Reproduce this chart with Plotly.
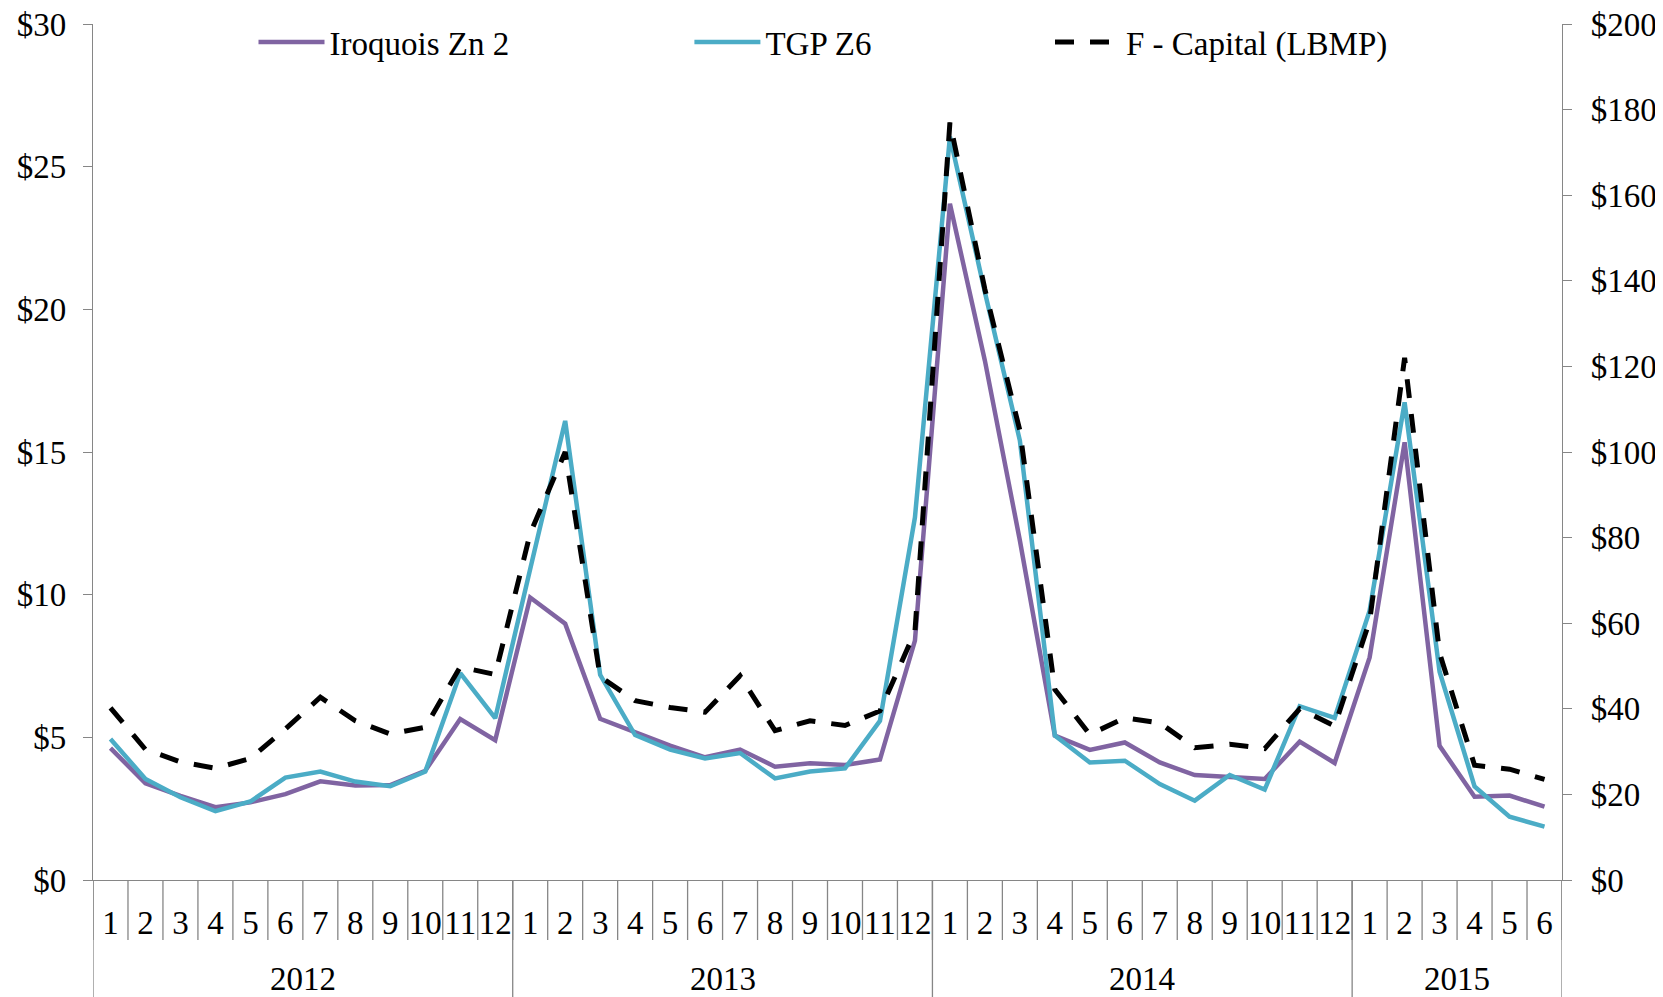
import plotly.graph_objects as go

year_labels = ["2012"] * 12 + ["2013"] * 12 + ["2014"] * 12 + ["2015"] * 6
month_labels = ["1", "2", "3", "4", "5", "6", "7", "8", "9", "10", "11", "12",
                "1", "2", "3", "4", "5", "6", "7", "8", "9", "10", "11", "12",
                "1", "2", "3", "4", "5", "6", "7", "8", "9", "10", "11", "12",
                "1", "2", "3", "4", "5", "6"]

iroquois_zn2 = [4.62, 3.39, 2.95, 2.55, 2.72, 3.01, 3.46, 3.31, 3.33, 3.83, 5.64, 4.90,
                9.90, 8.98, 5.65, 5.17, 4.71, 4.30, 4.57, 3.97, 4.09, 4.03, 4.22, 8.39,
                23.70, 18.20, 11.90, 5.06, 4.56, 4.82, 4.12, 3.68, 3.62, 3.54, 4.85, 4.10,
                7.80, 15.34, 4.70, 2.92, 2.96, 2.57]

tgp_z6 = [4.94, 3.54, 2.90, 2.41, 2.75, 3.59, 3.80, 3.45, 3.29, 3.80, 7.25, 5.67,
          10.90, 16.09, 7.19, 5.08, 4.57, 4.26, 4.45, 3.56, 3.80, 3.91, 5.58, 12.71,
          26.05, 20.60, 15.40, 5.06, 4.12, 4.18, 3.36, 2.78, 3.68, 3.17, 6.09, 5.68,
          9.44, 16.74, 7.30, 3.28, 2.22, 1.87]

f_capital_lbmp = [40.2, 30.5, 27.6, 26.1, 28.4, 35.3, 42.7, 37.2, 34.1, 35.7, 49.8, 48.0,
                  81.0, 100.0, 47.5, 41.9, 40.3, 39.2, 47.7, 34.9, 37.2, 36.1, 39.5, 58.0,
                  177.0, 138.0, 105.0, 44.5, 34.0, 37.9, 36.7, 30.9, 31.7, 30.7, 40.0, 36.0,
                  60.5, 122.0, 53.0, 26.8, 25.9, 23.5]

FONT = "Liberation Serif, Times New Roman, serif"
FS = 33
AXIS_GRAY = "#868686"

# unique category keys (year-month), displayed with month labels
x_keys = [f"{y}-{m}" for y, m in zip(year_labels, month_labels)]

W, H = 1655, 989          # page has an 8px body margin
ML, MR, MT, MB = 85, 101, 16, 117
PH = H - MT - MB          # plot height in px

fig = go.Figure()
fig.add_trace(go.Scatter(x=x_keys, y=iroquois_zn2, name="Iroquois Zn 2", mode="lines",
                         line=dict(color="#8064A2", width=4.5), legend="legend"))
fig.add_trace(go.Scatter(x=x_keys, y=tgp_z6, name="TGP Z6", mode="lines",
                         line=dict(color="#4BACC6", width=4.5), legend="legend2"))
fig.add_trace(go.Scatter(x=x_keys, y=f_capital_lbmp, name="F - Capital (LBMP)", mode="lines",
                         line=dict(color="black", width=5, dash="19px,16px"),
                         yaxis="y2", legend="legend3"))

# month separators below the axis
n = len(month_labels)
for i in range(n + 1):
    fig.add_shape(type="line", xref="x", yref="paper", x0=i - 0.5, x1=i - 0.5,
                  y0=0, y1=-60 / PH, line=dict(color=AXIS_GRAY, width=1.3), layer="below")

# year group dividers and labels
groups = []
for i, yr in enumerate(year_labels):
    if not groups or groups[-1][0] != yr:
        groups.append([yr, i, i])
    else:
        groups[-1][2] = i
for yr, i0, i1 in groups:
    fig.add_shape(type="line", xref="x", yref="paper", x0=i0 - 0.5, x1=i0 - 0.5,
                  y0=0, y1=-MB / PH, line=dict(color=AXIS_GRAY, width=1.3), layer="below")
    fig.add_annotation(x=(i0 + i1) / 2, y=-99 / PH, xref="x", yref="paper", text=yr,
                       showarrow=False, yanchor="middle", xanchor="center",
                       font=dict(family=FONT, size=FS, color="black"))
fig.add_shape(type="line", xref="x", yref="paper", x0=n - 0.5, x1=n - 0.5,
              y0=0, y1=-MB / PH, line=dict(color=AXIS_GRAY, width=1.3), layer="below")

leg_common = dict(orientation="h", yanchor="middle", xanchor="left", y=0.979,
                  font=dict(family=FONT, size=FS, color="black"),
                  bgcolor="rgba(0,0,0,0)", itemwidth=66, tracegroupgap=0)
PW = W - ML - MR

fig.update_layout(
    template="none",
    width=W, height=H,
    margin=dict(l=ML, r=MR, t=MT, b=MB, autoexpand=False),
    paper_bgcolor="white", plot_bgcolor="white",
    font=dict(family=FONT, size=FS, color="black"),
    showlegend=True,
    legend=dict(x=160.5 / PW, **leg_common),
    legend2=dict(x=596.4 / PW, **leg_common),
    legend3=dict(x=957.0 / PW, **leg_common),
    xaxis=dict(type="category", categoryorder="array", categoryarray=x_keys,
               tickmode="array", tickvals=x_keys, ticktext=month_labels,
               range=[-0.5, n - 0.5],
               showline=True, linecolor=AXIS_GRAY, linewidth=1.3,
               ticks="outside", ticklen=13, tickcolor="rgba(0,0,0,0)", tickangle=0,
               automargin=False, showgrid=False, zeroline=False,
               ticklabeloverflow="allow",
               tickfont=dict(family=FONT, size=FS, color="black")),
    yaxis=dict(range=[0, 30], dtick=5, tickprefix="$", showline=True, linecolor=AXIS_GRAY,
               linewidth=1.3, ticks="outside", ticklen=9, tickcolor=AXIS_GRAY, tickwidth=1.3,
               showgrid=False, zeroline=False, ticklabelstandoff=10, automargin=False,
               ticklabeloverflow="allow",
               tickfont=dict(family=FONT, size=FS, color="black")),
    yaxis2=dict(range=[0, 200], dtick=20, tickprefix="$", overlaying="y", side="right",
                showline=True, linecolor=AXIS_GRAY, linewidth=1.3, ticks="outside",
                ticklen=9, tickcolor=AXIS_GRAY, tickwidth=1.3, showgrid=False,
                zeroline=False, ticklabelstandoff=12, automargin=False,
                ticklabeloverflow="allow",
                tickfont=dict(family=FONT, size=FS, color="black")),
)

fig.write_html("out.html")
